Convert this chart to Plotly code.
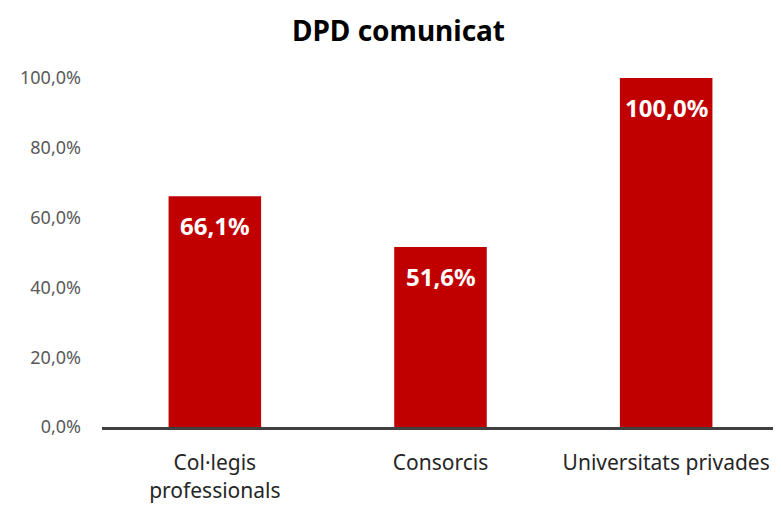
import plotly.graph_objects as go

categories = ['Col·legis<br>professionals', 'Consorcis', 'Universitats privades']
values = [66.1, 51.6, 100.0]
tick_vals = [0, 20, 40, 60, 80, 100]
tick_text = ['0,0%', '20,0%', '40,0%', '60,0%', '80,0%', '100,0%']

fig = go.Figure()
fig.add_trace(go.Bar(
    x=categories,
    y=values,
    marker=dict(color='#C00000', line=dict(width=0)),
    hoverinfo='x+y',
))

# value labels sit just under the top of each bar
for cat, val in zip(categories, values):
    fig.add_annotation(
        x=cat, y=val,
        text='<b>' + f'{val:.1f}'.replace('.', ',') + '%</b>',
        showarrow=False,
        yanchor='top', yshift=-11,
        font=dict(color='white', size=24, family='Noto Sans'),
    )

# page has an 8px body margin, so offsets are shifted accordingly
fig.update_layout(
    width=781, height=505,
    margin=dict(l=94, r=10, t=70, b=86),
    plot_bgcolor='white',
    paper_bgcolor='white',
    separators=',.',
    bargap=0.59,
    showlegend=False,
    font=dict(family='Noto Sans'),
    title=dict(
        text='<b>DPD comunicat</b>',
        x=0.5, xanchor='center',
        y=0.955, yanchor='middle',
        font=dict(size=28, color='black', family='Noto Sans'),
    ),
    xaxis=dict(
        showline=True, linecolor='#404040', linewidth=3,
        ticks='', tickfont=dict(size=21, color='#262626'),
        showgrid=False,
        ticklabelstandoff=15,
        automargin=False,
    ),
    yaxis=dict(
        range=[0, 100],
        tickvals=tick_vals,
        ticktext=tick_text,
        tickfont=dict(size=18, color='#595959'),
        showgrid=False, zeroline=False, showline=False,
        ticklabelstandoff=20,
        automargin=False,
    ),
)

fig.write_html("out.html")
